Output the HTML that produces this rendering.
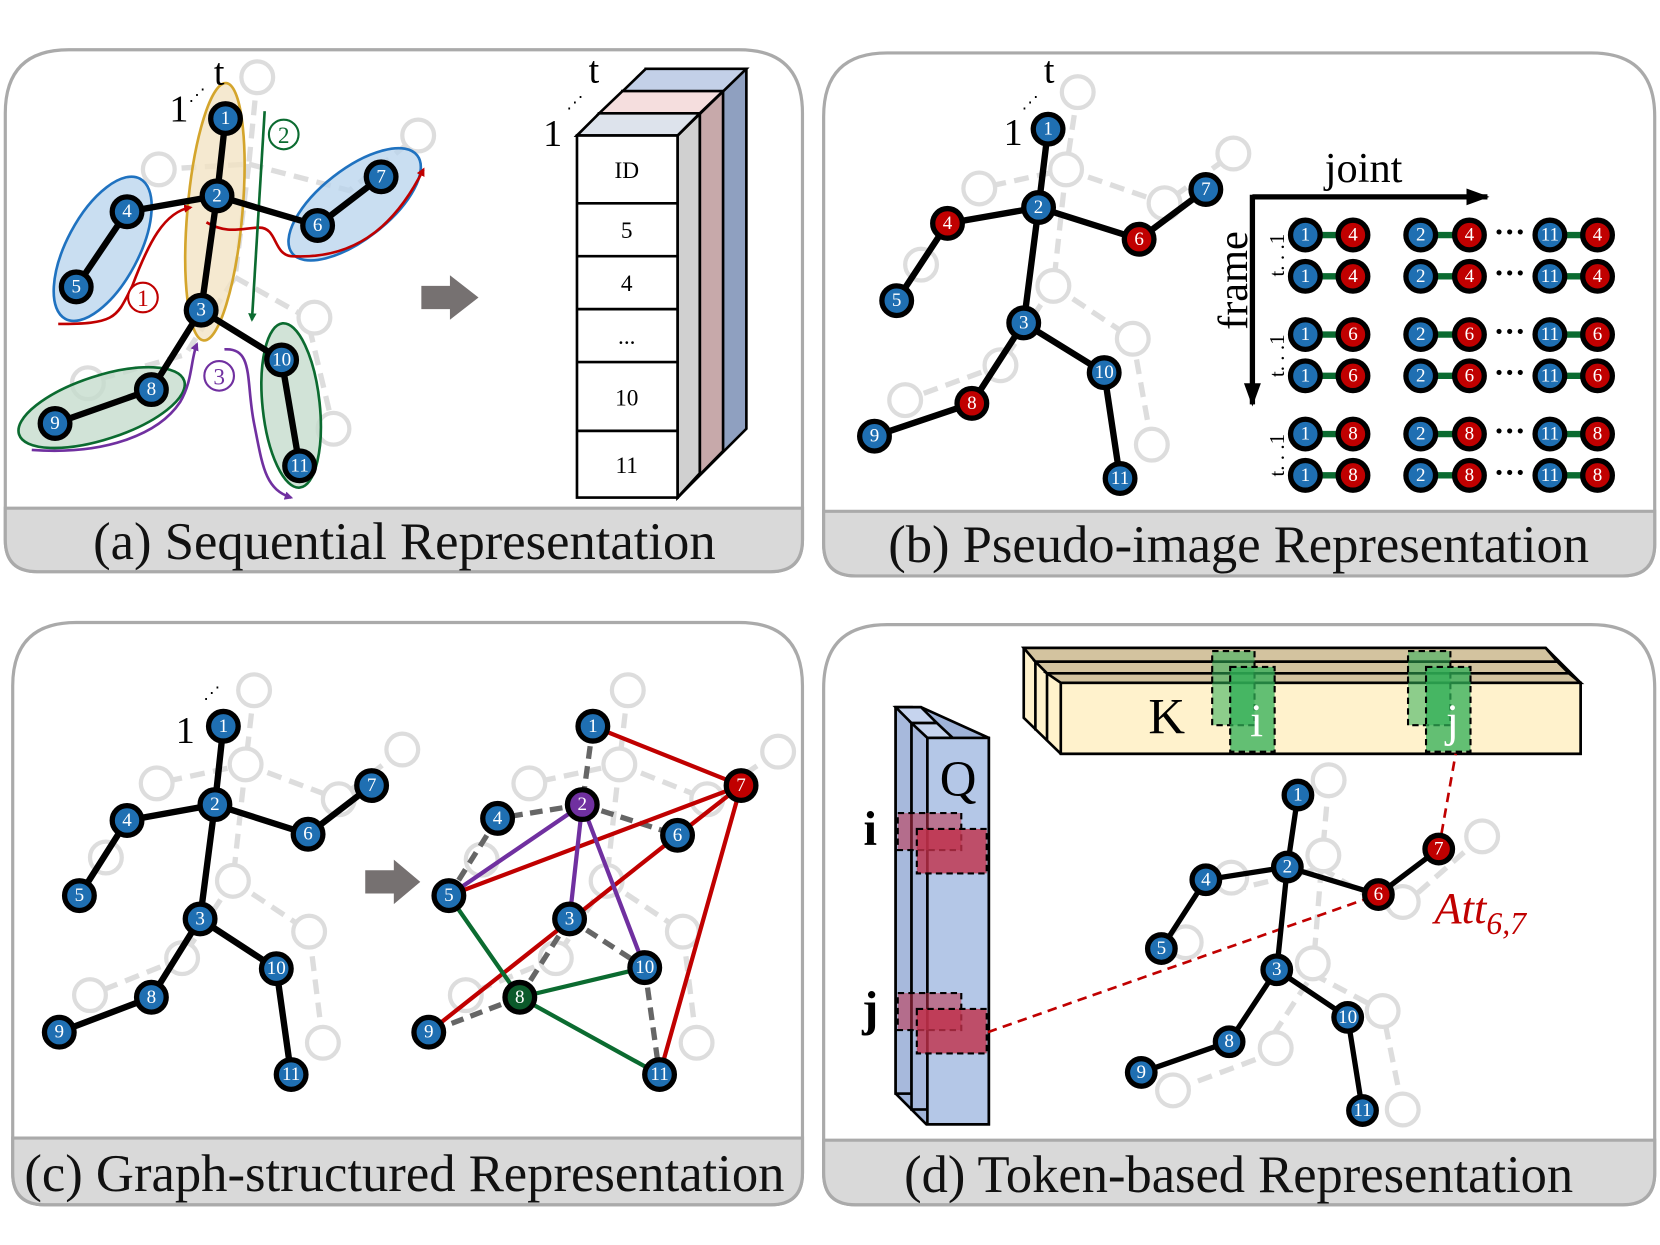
<!DOCTYPE html>
<html><head><meta charset="utf-8"><style>
html,body{margin:0;padding:0;background:#fff}
svg{display:block}
text{font-family:"Liberation Serif",serif}
.n text{font-size:18px;fill:#fff;text-anchor:middle;dominant-baseline:central}
</style></head><body>
<svg width="1660" height="1245" viewBox="0 0 1568 1176" preserveAspectRatio="none" xmlns="http://www.w3.org/2000/svg">
<defs>
<marker id="ar" markerWidth="8" markerHeight="8" refX="6" refY="4" orient="auto" markerUnits="userSpaceOnUse"><path d="M0,0 L8,4 L0,8 Z" fill="#c00000"/></marker>
<marker id="ag" markerWidth="8" markerHeight="8" refX="6" refY="4" orient="auto" markerUnits="userSpaceOnUse"><path d="M0,0 L8,4 L0,8 Z" fill="#0b6b30"/></marker>
<marker id="ap" markerWidth="8" markerHeight="8" refX="6" refY="4" orient="auto" markerUnits="userSpaceOnUse"><path d="M0,0 L8,4 L0,8 Z" fill="#7030a0"/></marker>
<marker id="ak" markerWidth="22" markerHeight="16" refX="20" refY="8" orient="auto" markerUnits="userSpaceOnUse"><path d="M0,0 L22,8 L0,16 Z" fill="#000"/></marker>
</defs>

<!-- panel frames -->
<g stroke="#aaa" stroke-width="3">
<path d="M65,47 H698 Q758,47 758,107 V510 Q758,540 728,540 H35 Q5,540 5,510 V107 Q5,47 65,47Z" fill="#fff"/>
<path d="M5,480 H758 V510 Q758,540 728,540 H35 Q5,540 5,510Z" fill="#d9d9d9"/>
<path d="M838,50 H1503 Q1563,50 1563,110 V514 Q1563,544 1533,544 H808 Q778,544 778,514 V110 Q778,50 838,50Z" fill="#fff"/>
<path d="M778,483 H1563 V514 Q1563,544 1533,544 H808 Q778,544 778,514Z" fill="#d9d9d9"/>
<path d="M72,588 H698 Q758,588 758,648 V1108 Q758,1138 728,1138 H42 Q12,1138 12,1108 V648 Q12,588 72,588Z" fill="#fff"/>
<path d="M12,1075 H758 V1108 Q758,1138 728,1138 H42 Q12,1138 12,1108Z" fill="#d9d9d9"/>
<path d="M838,590 H1503 Q1563,590 1563,650 V1108 Q1563,1138 1533,1138 H808 Q778,1138 778,1108 V650 Q778,590 838,590Z" fill="#fff"/>
<path d="M778,1077 H1563 V1108 Q1563,1138 1533,1138 H808 Q778,1138 778,1108Z" fill="#d9d9d9"/>
</g>
<g font-size="50" text-anchor="middle" fill="#111">
<text x="382" y="528" textLength="588" lengthAdjust="spacingAndGlyphs">(a) Sequential Representation</text>
<text x="1170" y="531" textLength="662" lengthAdjust="spacingAndGlyphs">(b) Pseudo-image Representation</text>
<text x="382" y="1125" textLength="718" lengthAdjust="spacingAndGlyphs">(c) Graph-structured Representation</text>
<text x="1170" y="1126" textLength="632" lengthAdjust="spacingAndGlyphs">(d) Token-based Representation</text>
</g>

<!-- ===== Panel A ===== -->
<g stroke="#ddd" stroke-width="5" fill="none" stroke-dasharray="14,8">
<path d="M243,73 L235,155 L150,160 M235,155 L330,180 L395,128 M235,155 L222,262 L175,335 L80,362 M222,262 L290,300 L315,405"/>
</g>
<g stroke="#ddd" stroke-width="4" fill="#fff">
<circle cx="243" cy="73" r="15"/><circle cx="150" cy="160" r="15"/><circle cx="395" cy="128" r="15"/><circle cx="297" cy="300" r="15"/><circle cx="315" cy="405" r="15"/><circle cx="83" cy="362" r="15"/>
</g>
<g stroke-width="2.5">
<ellipse cx="203" cy="200" rx="26" ry="122" transform="rotate(5 203 200)" fill="#f2e4c4" fill-opacity="0.8" stroke="#d4a52c"/>
<ellipse cx="97" cy="235" rx="34" ry="75" transform="rotate(28 97 235)" fill="#b7d3ec" fill-opacity="0.75" stroke="#1f72c0"/>
<ellipse cx="335" cy="193" rx="33" ry="75" transform="rotate(52 335 193)" fill="#b7d3ec" fill-opacity="0.75" stroke="#1f72c0"/>
<ellipse cx="96" cy="385" rx="30" ry="82" transform="rotate(72 96 385)" fill="#c5dccd" fill-opacity="0.8" stroke="#0b6b30"/>
<ellipse cx="275" cy="383" rx="27" ry="78" transform="rotate(-6 275 383)" fill="#c5dccd" fill-opacity="0.8" stroke="#0b6b30"/>
</g>
<g fill="none" stroke-width="2.5">
<path d="M55,306 C110,306 110,300 125,270 C140,230 155,200 180,196" stroke="#c00000" marker-end="url(#ar)"/>
<path d="M195,210 C215,222 230,215 245,215 C262,215 258,240 275,242 C330,245 370,220 400,160" stroke="#c00000" marker-end="url(#ar)"/>
<path d="M250,105 L238,302" stroke="#0b6b30" marker-end="url(#ag)"/>
<path d="M30,425 C100,430 150,410 170,380 C182,360 180,340 186,325" stroke="#7030a0" marker-end="url(#ap)"/>
<path d="M212,330 C240,328 232,360 240,400 C248,440 250,462 275,470" stroke="#7030a0" marker-end="url(#ap)"/>
</g>
<g fill="#fff" stroke-width="2">
<circle cx="135" cy="281" r="14" stroke="#c00000"/><circle cx="268" cy="127" r="14" stroke="#0b6b30"/><circle cx="207" cy="355" r="14" stroke="#7030a0"/>
</g>
<g font-size="22" text-anchor="middle"><text x="135" y="289" fill="#c00000">1</text><text x="268" y="135" fill="#0b6b30">2</text><text x="207" y="363" fill="#7030a0">3</text></g>
<g stroke="#000" stroke-width="6" fill="none"><path d="M213,112 L205,185 L190,293 L143,368 L52,400 M205,185 L120,200 L72,271 M205,185 L300,213 L360,167 M190,293 L266,340 L283,440"/></g>
<g class="n" stroke="#000" stroke-width="5">
<g><circle cx="213" cy="112" r="14" fill="#1f6fb2"/><text x="213" y="112" stroke="none">1</text></g>
<g><circle cx="205" cy="185" r="14" fill="#1f6fb2"/><text x="205" y="185" stroke="none">2</text></g>
<g><circle cx="190" cy="293" r="14" fill="#1f6fb2"/><text x="190" y="293" stroke="none">3</text></g>
<g><circle cx="120" cy="200" r="14" fill="#1f6fb2"/><text x="120" y="200" stroke="none">4</text></g>
<g><circle cx="72" cy="271" r="14" fill="#1f6fb2"/><text x="72" y="271" stroke="none">5</text></g>
<g><circle cx="300" cy="213" r="14" fill="#1f6fb2"/><text x="300" y="213" stroke="none">6</text></g>
<g><circle cx="360" cy="167" r="14" fill="#1f6fb2"/><text x="360" y="167" stroke="none">7</text></g>
<g><circle cx="143" cy="368" r="14" fill="#1f6fb2"/><text x="143" y="368" stroke="none">8</text></g>
<g><circle cx="52" cy="400" r="14" fill="#1f6fb2"/><text x="52" y="400" stroke="none">9</text></g>
<g><circle cx="266" cy="340" r="14" fill="#1f6fb2"/><text x="266" y="340" stroke="none" font-size="15">10</text></g>
<g><circle cx="283" cy="440" r="14" fill="#1f6fb2"/><text x="283" y="440" stroke="none" font-size="15">11</text></g>
</g>
<text x="160" y="115" font-size="36">1</text><text x="202" y="80" font-size="36">t</text><text x="178" y="95" font-size="16">⋰</text>
<!-- stack -->
<g stroke="#000" stroke-width="2.5">
<polygon points="610,65 705,65 705,405 640,470" fill="#8fa0c0"/>
<polygon points="588,86 683,86 683,426 640,470" fill="#c7a9aa"/>
<polygon points="566,107 661,107 661,447 640,470" fill="#a9adb3"/>
<polygon points="640,128 661,107 661,447 640,470" fill="#d0d0d0"/>
<polygon points="545,128 610,65 705,65 640,128" fill="#c3d0e8"/>
<polygon points="566,107 588,86 683,86 661,107" fill="#f5dede"/>
<polygon points="545,128 566,107 661,107 640,128" fill="#dde3ec"/>
<rect x="545" y="128" width="95" height="342" fill="#fff"/>
<path d="M545,192 H640 M545,242 H640 M545,292 H640 M545,342 H640 M545,407 H640"/>
</g>
<g font-size="22" text-anchor="middle"><text x="592" y="168">ID</text><text x="592" y="225">5</text><text x="592" y="275">4</text><text x="592" y="325">...</text><text x="592" y="383">10</text><text x="592" y="447">11</text></g>
<text x="513" y="138" font-size="36">1</text><text x="556" y="78" font-size="36">t</text><text x="535" y="102" font-size="16">⋰</text>
<polygon points="398,270 425,270 425,260 452,281 425,302 425,292 398,292" fill="#767171"/>

<!-- ===== Panel B ===== -->
<g stroke="#ddd" stroke-width="5" fill="none" stroke-dasharray="14,8">
<path d="M1018,87 L1007,160 L925,178 M1007,160 L1100,192 L1165,145 M1007,160 L995,270 L945,345 L855,378 M995,270 L1070,320 L1088,420"/>
</g>
<g stroke="#ddd" stroke-width="4" fill="#fff">
<circle cx="1018" cy="87" r="15"/><circle cx="925" cy="178" r="15"/><circle cx="1165" cy="145" r="15"/><circle cx="1007" cy="160" r="15"/><circle cx="995" cy="270" r="15"/><circle cx="945" cy="345" r="15"/><circle cx="855" cy="378" r="15"/><circle cx="1070" cy="320" r="15"/><circle cx="1088" cy="420" r="15"/><circle cx="870" cy="250" r="15"/><circle cx="1100" cy="192" r="15"/>
</g>
<g stroke="#000" stroke-width="6" fill="none"><path d="M990,122 L981,196 L967,305 L918,381 L826,412 M981,196 L895,211 L847,284 M981,196 L1076,226 L1139,179 M967,305 L1043,352 L1058,452"/></g>
<g class="n" stroke="#000" stroke-width="5">
<g><circle cx="990" cy="122" r="14" fill="#1f6fb2"/><text x="990" y="122" stroke="none">1</text></g>
<g><circle cx="981" cy="196" r="14" fill="#1f6fb2"/><text x="981" y="196" stroke="none">2</text></g>
<g><circle cx="967" cy="305" r="14" fill="#1f6fb2"/><text x="967" y="305" stroke="none">3</text></g>
<g><circle cx="895" cy="211" r="14" fill="#c00000"/><text x="895" y="211" stroke="none">4</text></g>
<g><circle cx="847" cy="284" r="14" fill="#1f6fb2"/><text x="847" y="284" stroke="none">5</text></g>
<g><circle cx="1076" cy="226" r="14" fill="#c00000"/><text x="1076" y="226" stroke="none">6</text></g>
<g><circle cx="1139" cy="179" r="14" fill="#1f6fb2"/><text x="1139" y="179" stroke="none">7</text></g>
<g><circle cx="918" cy="381" r="14" fill="#c00000"/><text x="918" y="381" stroke="none">8</text></g>
<g><circle cx="826" cy="412" r="14" fill="#1f6fb2"/><text x="826" y="412" stroke="none">9</text></g>
<g><circle cx="1043" cy="352" r="14" fill="#1f6fb2"/><text x="1043" y="352" stroke="none" font-size="15">10</text></g>
<g><circle cx="1058" cy="452" r="14" fill="#1f6fb2"/><text x="1058" y="452" stroke="none" font-size="15">11</text></g>
</g>
<text x="948" y="137" font-size="36">1</text><text x="986" y="78" font-size="36">t</text><text x="965" y="102" font-size="16">⋰</text>
<g stroke="#000" stroke-width="5" fill="none"><path d="M1183,186 H1405" marker-end="url(#ak)"/><path d="M1183,184 V382" marker-end="url(#ak)"/></g>
<text x="1288" y="172" font-size="40" text-anchor="middle">joint</text>
<text transform="translate(1178,265) rotate(-90)" font-size="40" text-anchor="middle">frame</text>
<g font-size="20" text-anchor="middle">
<text transform="translate(1213,241) rotate(-90)">t. . .1</text>
<text transform="translate(1213,336) rotate(-90)">t. . .1</text>
<text transform="translate(1213,430) rotate(-90)">t. . .1</text>
</g>
<g stroke="#0b6b30" stroke-width="6">
<path d="M1233,222H1278M1342,222H1388M1464,222H1509M1233,261H1278M1342,261H1388M1464,261H1509M1233,316H1278M1342,316H1388M1464,316H1509M1233,355H1278M1342,355H1388M1464,355H1509M1233,410H1278M1342,410H1388M1464,410H1509M1233,449H1278M1342,449H1388M1464,449H1509"/>
</g>
<g fill="#000" font-size="30" text-anchor="middle" font-weight="bold"><text x="1426" y="229">···</text><text x="1426" y="268">···</text><text x="1426" y="323">···</text><text x="1426" y="362">···</text><text x="1426" y="417">···</text><text x="1426" y="456">···</text></g>
<g class="n" stroke="#000" stroke-width="5">
<g><circle cx="1233" cy="222" r="14" fill="#1f6fb2"/><text x="1233" y="222" stroke="none">1</text><circle cx="1278" cy="222" r="14" fill="#c00000"/><text x="1278" y="222" stroke="none">4</text><circle cx="1342" cy="222" r="14" fill="#1f6fb2"/><text x="1342" y="222" stroke="none">2</text><circle cx="1388" cy="222" r="14" fill="#c00000"/><text x="1388" y="222" stroke="none">4</text><circle cx="1464" cy="222" r="14" fill="#1f6fb2"/><text x="1464" y="222" stroke="none" font-size="15">11</text><circle cx="1509" cy="222" r="14" fill="#c00000"/><text x="1509" y="222" stroke="none">4</text></g>
<g><circle cx="1233" cy="261" r="14" fill="#1f6fb2"/><text x="1233" y="261" stroke="none">1</text><circle cx="1278" cy="261" r="14" fill="#c00000"/><text x="1278" y="261" stroke="none">4</text><circle cx="1342" cy="261" r="14" fill="#1f6fb2"/><text x="1342" y="261" stroke="none">2</text><circle cx="1388" cy="261" r="14" fill="#c00000"/><text x="1388" y="261" stroke="none">4</text><circle cx="1464" cy="261" r="14" fill="#1f6fb2"/><text x="1464" y="261" stroke="none" font-size="15">11</text><circle cx="1509" cy="261" r="14" fill="#c00000"/><text x="1509" y="261" stroke="none">4</text></g>
<g><circle cx="1233" cy="316" r="14" fill="#1f6fb2"/><text x="1233" y="316" stroke="none">1</text><circle cx="1278" cy="316" r="14" fill="#c00000"/><text x="1278" y="316" stroke="none">6</text><circle cx="1342" cy="316" r="14" fill="#1f6fb2"/><text x="1342" y="316" stroke="none">2</text><circle cx="1388" cy="316" r="14" fill="#c00000"/><text x="1388" y="316" stroke="none">6</text><circle cx="1464" cy="316" r="14" fill="#1f6fb2"/><text x="1464" y="316" stroke="none" font-size="15">11</text><circle cx="1509" cy="316" r="14" fill="#c00000"/><text x="1509" y="316" stroke="none">6</text></g>
<g><circle cx="1233" cy="355" r="14" fill="#1f6fb2"/><text x="1233" y="355" stroke="none">1</text><circle cx="1278" cy="355" r="14" fill="#c00000"/><text x="1278" y="355" stroke="none">6</text><circle cx="1342" cy="355" r="14" fill="#1f6fb2"/><text x="1342" y="355" stroke="none">2</text><circle cx="1388" cy="355" r="14" fill="#c00000"/><text x="1388" y="355" stroke="none">6</text><circle cx="1464" cy="355" r="14" fill="#1f6fb2"/><text x="1464" y="355" stroke="none" font-size="15">11</text><circle cx="1509" cy="355" r="14" fill="#c00000"/><text x="1509" y="355" stroke="none">6</text></g>
<g><circle cx="1233" cy="410" r="14" fill="#1f6fb2"/><text x="1233" y="410" stroke="none">1</text><circle cx="1278" cy="410" r="14" fill="#c00000"/><text x="1278" y="410" stroke="none">8</text><circle cx="1342" cy="410" r="14" fill="#1f6fb2"/><text x="1342" y="410" stroke="none">2</text><circle cx="1388" cy="410" r="14" fill="#c00000"/><text x="1388" y="410" stroke="none">8</text><circle cx="1464" cy="410" r="14" fill="#1f6fb2"/><text x="1464" y="410" stroke="none" font-size="15">11</text><circle cx="1509" cy="410" r="14" fill="#c00000"/><text x="1509" y="410" stroke="none">8</text></g>
<g><circle cx="1233" cy="449" r="14" fill="#1f6fb2"/><text x="1233" y="449" stroke="none">1</text><circle cx="1278" cy="449" r="14" fill="#c00000"/><text x="1278" y="449" stroke="none">8</text><circle cx="1342" cy="449" r="14" fill="#1f6fb2"/><text x="1342" y="449" stroke="none">2</text><circle cx="1388" cy="449" r="14" fill="#c00000"/><text x="1388" y="449" stroke="none">8</text><circle cx="1464" cy="449" r="14" fill="#1f6fb2"/><text x="1464" y="449" stroke="none" font-size="15">11</text><circle cx="1509" cy="449" r="14" fill="#c00000"/><text x="1509" y="449" stroke="none">8</text></g>
</g>

<!-- ===== Panel C ===== -->
<g stroke="#ddd" stroke-width="5" fill="none" stroke-dasharray="14,8">
<path d="M240,652 L232,722 L148,740 M232,722 L320,755 L380,708 M232,722 L220,832 L172,905 L85,940 M220,832 L292,880 L305,985"/>
<path d="M593,652 L585,722 L500,740 M585,722 L668,755 L735,710 M585,722 L573,832 L525,905 L440,940 M573,832 L645,880 L658,985"/>
</g>
<g stroke="#ddd" stroke-width="4" fill="#fff">
<circle cx="240" cy="652" r="15"/><circle cx="148" cy="740" r="15"/><circle cx="232" cy="722" r="15"/><circle cx="380" cy="708" r="15"/><circle cx="320" cy="755" r="15"/><circle cx="220" cy="832" r="15"/><circle cx="172" cy="905" r="15"/><circle cx="85" cy="940" r="15"/><circle cx="292" cy="880" r="15"/><circle cx="305" cy="985" r="15"/><circle cx="100" cy="810" r="15"/>
<circle cx="593" cy="652" r="15"/><circle cx="500" cy="740" r="15"/><circle cx="585" cy="722" r="15"/><circle cx="735" cy="710" r="15"/><circle cx="668" cy="755" r="15"/><circle cx="573" cy="832" r="15"/><circle cx="525" cy="905" r="15"/><circle cx="440" cy="940" r="15"/><circle cx="645" cy="880" r="15"/><circle cx="658" cy="985" r="15"/><circle cx="455" cy="812" r="15"/>
</g>
<g stroke="#000" stroke-width="6" fill="none"><path d="M211,686 L203,760 L189,868 L143,942 L56,975 M203,760 L120,775 L75,846 M203,760 L291,788 L351,742 M189,868 L261,915 L275,1015"/></g>
<text x="166" y="702" font-size="36">1</text><text x="192" y="660" font-size="16">⋰</text>
<polygon points="345,822 372,822 372,812 397,833 372,854 372,844 345,844" fill="#767171"/>
<g stroke="#666" stroke-width="5" stroke-dasharray="12,7" fill="none"><path d="M560,686 L550,760 M550,760 L470,773 M550,760 L640,789 M470,773 L424,846 M538,868 L491,942 M538,868 L609,914 M491,942 L405,975 M609,914 L623,1015"/></g>
<g stroke-width="4" fill="none">
<path d="M560,686 L700,742 M700,742 L424,846 M405,975 L640,789 L700,742 M700,742 L623,1015" stroke="#c00000"/>
<path d="M550,760 L424,846 M550,760 L538,868 M550,760 L609,914" stroke="#7030a0"/>
<path d="M424,846 L491,942 L609,914 M491,942 L623,1015" stroke="#0b6b30"/>
</g>
<g class="n" stroke="#000" stroke-width="5">
<g><circle cx="211" cy="686" r="14" fill="#1f6fb2"/><text x="211" y="686" stroke="none">1</text></g>
<g><circle cx="203" cy="760" r="14" fill="#1f6fb2"/><text x="203" y="760" stroke="none">2</text></g>
<g><circle cx="189" cy="868" r="14" fill="#1f6fb2"/><text x="189" y="868" stroke="none">3</text></g>
<g><circle cx="120" cy="775" r="14" fill="#1f6fb2"/><text x="120" y="775" stroke="none">4</text></g>
<g><circle cx="75" cy="846" r="14" fill="#1f6fb2"/><text x="75" y="846" stroke="none">5</text></g>
<g><circle cx="291" cy="788" r="14" fill="#1f6fb2"/><text x="291" y="788" stroke="none">6</text></g>
<g><circle cx="351" cy="742" r="14" fill="#1f6fb2"/><text x="351" y="742" stroke="none">7</text></g>
<g><circle cx="143" cy="942" r="14" fill="#1f6fb2"/><text x="143" y="942" stroke="none">8</text></g>
<g><circle cx="56" cy="975" r="14" fill="#1f6fb2"/><text x="56" y="975" stroke="none">9</text></g>
<g><circle cx="261" cy="915" r="14" fill="#1f6fb2"/><text x="261" y="915" stroke="none" font-size="15">10</text></g>
<g><circle cx="275" cy="1015" r="14" fill="#1f6fb2"/><text x="275" y="1015" stroke="none" font-size="15">11</text></g>
<g><circle cx="560" cy="686" r="14" fill="#1f6fb2"/><text x="560" y="686" stroke="none">1</text></g>
<g><circle cx="550" cy="760" r="14" fill="#7030a0"/><text x="550" y="760" stroke="none">2</text></g>
<g><circle cx="538" cy="868" r="14" fill="#1f6fb2"/><text x="538" y="868" stroke="none">3</text></g>
<g><circle cx="470" cy="773" r="14" fill="#1f6fb2"/><text x="470" y="773" stroke="none">4</text></g>
<g><circle cx="424" cy="846" r="14" fill="#1f6fb2"/><text x="424" y="846" stroke="none">5</text></g>
<g><circle cx="640" cy="789" r="14" fill="#1f6fb2"/><text x="640" y="789" stroke="none">6</text></g>
<g><circle cx="700" cy="742" r="14" fill="#c00000"/><text x="700" y="742" stroke="none">7</text></g>
<g><circle cx="491" cy="942" r="14" fill="#0b5a2a"/><text x="491" y="942" stroke="none">8</text></g>
<g><circle cx="405" cy="975" r="14" fill="#1f6fb2"/><text x="405" y="975" stroke="none">9</text></g>
<g><circle cx="609" cy="914" r="14" fill="#1f6fb2"/><text x="609" y="914" stroke="none" font-size="15">10</text></g>
<g><circle cx="623" cy="1015" r="14" fill="#1f6fb2"/><text x="623" y="1015" stroke="none" font-size="15">11</text></g>
</g>

<!-- ===== Panel D ===== -->
<g stroke="#000" stroke-width="2.5">
<polygon points="846,668 870,668 934,697 934,1062 875,1062 846,1033" fill="#9fb3d8"/>
<rect x="846" y="668" width="15" height="365" fill="#a7b9dc"/>
<rect x="861" y="683" width="15" height="365" fill="#a7b9dc"/>
<polygon points="846,668 870,668 885,683 861,683" fill="#c6d4ee"/>
<polygon points="861,683 885,683 900,697 876,697" fill="#c6d4ee"/>
<rect x="876" y="697" width="58" height="365" fill="#b4c7e7"/>
</g>
<g fill="#c0304a" fill-opacity="0.55" stroke="#000" stroke-width="2" stroke-dasharray="6,4">
<rect x="848" y="768" width="60" height="35"/><rect x="866" y="783" width="66" height="42" fill-opacity="0.8"/>
<rect x="848" y="938" width="60" height="35"/><rect x="866" y="953" width="66" height="42" fill-opacity="0.8"/>
</g>
<text x="905" y="752" font-size="48" text-anchor="middle">Q</text>
<text x="822" y="798" font-size="46" text-anchor="middle" font-weight="bold">i</text>
<text x="822" y="968" font-size="46" text-anchor="middle" font-weight="bold">j</text>
<g stroke="#000" stroke-width="2.5">
<polygon points="967,612 1460,612 1493,645 1493,712 1002,712 967,678" fill="#fff2cc"/>
<polygon points="967,612 1460,612 1471,625 978,625" fill="#d3c39f"/>
<polygon points="978,625 1471,625 1482,636 989,636" fill="#d3c39f"/>
<polygon points="989,636 1482,636 1493,645 1002,645" fill="#d3c39f"/>
<path d="M978,625 V690 M989,636 V700"/>
<rect x="1002" y="645" width="491" height="67" fill="#fff2cc"/>
</g>
<g fill="#2fae55" fill-opacity="0.55" stroke="#000" stroke-width="2" stroke-dasharray="6,4">
<rect x="1145" y="615" width="40" height="70"/><rect x="1162" y="630" width="42" height="80" fill-opacity="0.75"/>
<rect x="1330" y="615" width="40" height="70"/><rect x="1347" y="630" width="42" height="80" fill-opacity="0.75"/>
</g>
<text x="1102" y="693" font-size="48" text-anchor="middle">K</text>
<text x="1187" y="695" font-size="44" fill="#fff" text-anchor="middle">i</text>
<text x="1372" y="695" font-size="44" fill="#fff" text-anchor="middle">j</text>
<g stroke="#ddd" stroke-width="5" fill="none" stroke-dasharray="14,8">
<path d="M1255,740 L1248,820 L1168,840 M1248,820 L1318,862 L1400,790 M1248,820 L1240,920 L1188,1000 L1108,1030 M1240,920 L1306,955 L1325,1048"/>
</g>
<g stroke="#ddd" stroke-width="4" fill="#fff">
<circle cx="1255" cy="737" r="15"/><circle cx="1163" cy="829" r="15"/><circle cx="1400" cy="790" r="15"/><circle cx="1250" cy="808" r="15"/><circle cx="1325" cy="852" r="15"/><circle cx="1240" cy="910" r="15"/><circle cx="1120" cy="890" r="15"/><circle cx="1205" cy="990" r="15"/><circle cx="1108" cy="1030" r="15"/><circle cx="1306" cy="955" r="15"/><circle cx="1325" cy="1048" r="15"/>
</g>
<g stroke="#c00000" stroke-width="2.5" stroke-dasharray="9,6" fill="none"><path d="M933,975 L1302,845 M1359,802 L1375,712"/></g>
<g stroke="#000" stroke-width="5" fill="none"><path d="M1226,751 L1216,819 L1206,916 L1161,984 L1078,1013 M1216,819 L1139,831 L1097,896 M1216,819 L1302,845 L1359,802 M1206,916 L1273,961 L1287,1049"/></g>
<g class="n" stroke="#000" stroke-width="5">
<g><circle cx="1226" cy="751" r="13" fill="#1f6fb2"/><text x="1226" y="751" stroke="none">1</text></g>
<g><circle cx="1216" cy="819" r="13" fill="#1f6fb2"/><text x="1216" y="819" stroke="none">2</text></g>
<g><circle cx="1206" cy="916" r="13" fill="#1f6fb2"/><text x="1206" y="916" stroke="none">3</text></g>
<g><circle cx="1139" cy="831" r="13" fill="#1f6fb2"/><text x="1139" y="831" stroke="none">4</text></g>
<g><circle cx="1097" cy="896" r="13" fill="#1f6fb2"/><text x="1097" y="896" stroke="none">5</text></g>
<g><circle cx="1302" cy="845" r="13" fill="#c00000"/><text x="1302" y="845" stroke="none">6</text></g>
<g><circle cx="1359" cy="802" r="13" fill="#c00000"/><text x="1359" y="802" stroke="none">7</text></g>
<g><circle cx="1161" cy="984" r="13" fill="#1f6fb2"/><text x="1161" y="984" stroke="none">8</text></g>
<g><circle cx="1078" cy="1013" r="13" fill="#1f6fb2"/><text x="1078" y="1013" stroke="none">9</text></g>
<g><circle cx="1273" cy="961" r="13" fill="#1f6fb2"/><text x="1273" y="961" stroke="none" font-size="14">10</text></g>
<g><circle cx="1287" cy="1049" r="13" fill="#1f6fb2"/><text x="1287" y="1049" stroke="none" font-size="14">11</text></g>
</g>
<text x="1355" y="872" font-size="42" fill="#c00000" font-style="italic">Att<tspan font-size="30" dy="10">6,7</tspan></text>
</svg>
</body></html>
